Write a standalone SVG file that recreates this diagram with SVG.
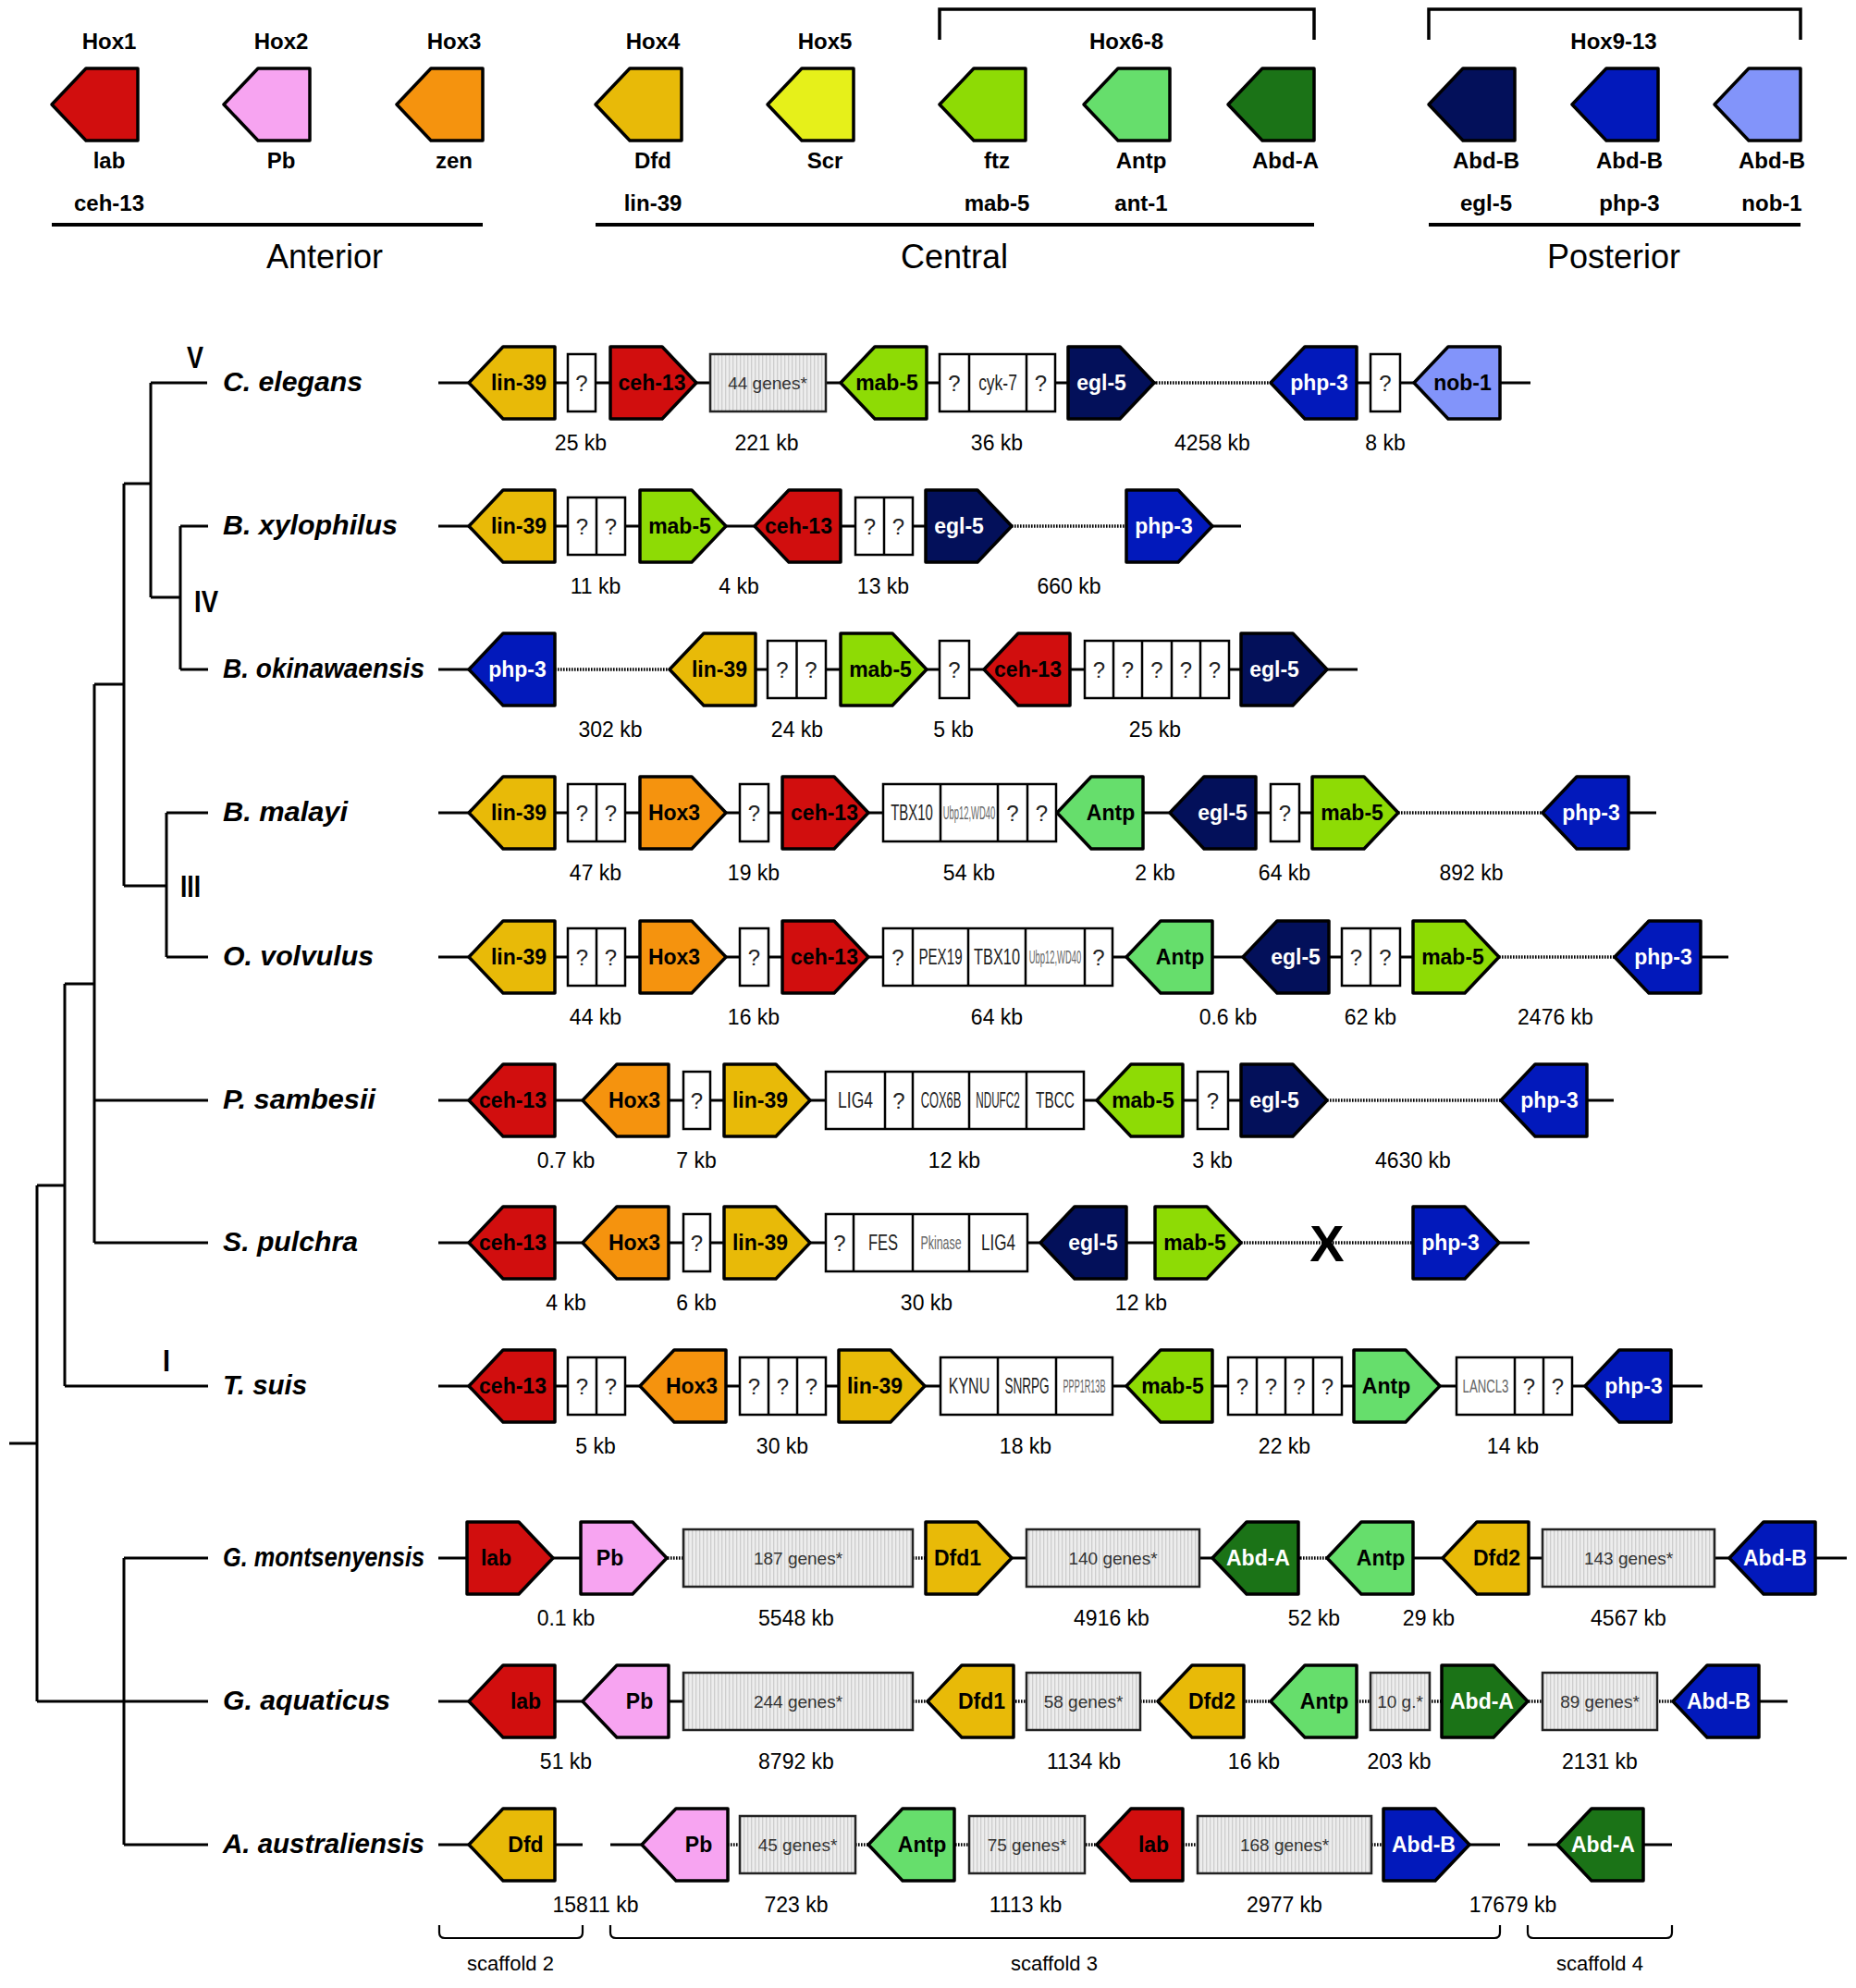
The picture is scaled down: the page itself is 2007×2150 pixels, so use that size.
<svg xmlns="http://www.w3.org/2000/svg" width="2007" height="2150" viewBox="0 0 2007 2150">
<style>
text{font-family:"Liberation Sans",Arial,sans-serif}
.g{stroke:#000;stroke-width:3.5;stroke-linejoin:round}
.red{fill:#d10e0e}.pink{fill:#f7a4f1}.orange{fill:#f5930e}.gold{fill:#e8ba08}.yellow{fill:#e6f01a}.lime{fill:#8edb05}.lgreen{fill:#66de6c}.dgreen{fill:#1b7317}.navy{fill:#03105a}.blue{fill:#0219bb}.lblue{fill:#8294fa}
.gt{font-weight:bold;font-size:23px;text-anchor:middle;fill:#000}
.gt.w{fill:#fff}
.bx{fill:#fff;stroke:#000;stroke-width:2.5}
.hb{fill:url(#hatch);stroke:#222;stroke-width:2.5}
.dv{stroke:#000;stroke-width:2.5;fill:none}
.q{font-size:24px;text-anchor:middle;fill:#222}
.gn{font-size:19px;text-anchor:middle;fill:#333}
.sl{font-size:23px;text-anchor:middle;fill:#222}
.lt{font-size:20px;text-anchor:middle;fill:#666}
.kb{font-size:23px;text-anchor:middle;fill:#000}
.sp{font-size:29px;font-weight:bold;font-style:italic;fill:#000}
.rn{font-size:34px;font-weight:bold;text-anchor:middle}
.lg{font-size:24px;font-weight:bold;text-anchor:middle}
.reg{font-size:36px;text-anchor:middle}
.ln{stroke:#000;stroke-width:3;fill:none}
.bb{stroke:#000;stroke-width:3;fill:none}
.wh{stroke:#fff;stroke-width:6;fill:none}
.dot{stroke:#000;stroke-width:3.5;stroke-dasharray:1.6 1.4;fill:none}
.bar{stroke:#000;stroke-width:4;fill:none}
.brk{stroke:#000;stroke-width:2.2;fill:none}
</style>
<defs>
<pattern id="hatch" width="4" height="10" patternUnits="userSpaceOnUse"><rect width="4" height="10" fill="#ededed"/><rect width="1.3" height="10" fill="#cdcdcd"/></pattern>
<path id="gl" d="M0,0 L37,-39 L93,-39 L93,39 L37,39 Z"/>
<path id="gr" d="M0,-39 L56,-39 L93,0 L56,39 L0,39 Z"/>
</defs>
<rect width="2007" height="2150" fill="#fff"/>

<g id="legend">
<path class="brk" style="stroke-width:3.5" d="M1016,43V10H1421V43M1545,43V10H1947V43"/>
<text class="lg" x="118" y="53">Hox1</text><text class="lg" x="304" y="53">Hox2</text><text class="lg" x="491" y="53">Hox3</text><text class="lg" x="706" y="53">Hox4</text><text class="lg" x="892" y="53">Hox5</text><text class="lg" x="1218" y="53">Hox6-8</text><text class="lg" x="1745" y="53">Hox9-13</text>
<g id="leg-hox1"><use href="#gl" x="56" y="113" class="g red"/><text class="lg" x="118" y="182">lab</text><text class="lg" x="118" y="228">ceh-13</text></g>
<g id="leg-hox2"><use href="#gl" x="242" y="113" class="g pink"/><text class="lg" x="304" y="182">Pb</text></g>
<g id="leg-hox3"><use href="#gl" x="429" y="113" class="g orange"/><text class="lg" x="491" y="182">zen</text></g>
<g id="leg-hox4"><use href="#gl" x="644" y="113" class="g gold"/><text class="lg" x="706" y="182">Dfd</text><text class="lg" x="706" y="228">lin-39</text></g>
<g id="leg-hox5"><use href="#gl" x="830" y="113" class="g yellow"/><text class="lg" x="892" y="182">Scr</text></g>
<g id="leg-ftz"><use href="#gl" x="1016" y="113" class="g lime"/><text class="lg" x="1078" y="182">ftz</text><text class="lg" x="1078" y="228">mab-5</text></g>
<g id="leg-antp"><use href="#gl" x="1172" y="113" class="g lgreen"/><text class="lg" x="1234" y="182">Antp</text><text class="lg" x="1234" y="228">ant-1</text></g>
<g id="leg-abda"><use href="#gl" x="1328" y="113" class="g dgreen"/><text class="lg" x="1390" y="182">Abd-A</text></g>
<g id="leg-egl5"><use href="#gl" x="1545" y="113" class="g navy"/><text class="lg" x="1607" y="182">Abd-B</text><text class="lg" x="1607" y="228">egl-5</text></g>
<g id="leg-php3"><use href="#gl" x="1700" y="113" class="g blue"/><text class="lg" x="1762" y="182">Abd-B</text><text class="lg" x="1762" y="228">php-3</text></g>
<g id="leg-nob1"><use href="#gl" x="1854" y="113" class="g lblue"/><text class="lg" x="1916" y="182">Abd-B</text><text class="lg" x="1916" y="228">nob-1</text></g>
<path class="bar" d="M56,243H522M644,243H1421M1545,243H1947"/>
<text class="reg" x="351" y="290">Anterior</text><text class="reg" x="1032" y="290">Central</text><text class="reg" x="1745" y="290">Posterior</text>
</g>

<g id="tree">
<path class="ln" d="M10,1561H40M40,1282V1840M40,1282H70M40,1840H225M134,1685V1995M134,1685H225M134,1995H225M70,1064V1499M70,1499H225M70,1064H102M102,740V1344M102,1190H225M102,1344H225M102,740H134M134,523V958M134,958H180M180,879V1035M180,879H225M180,1035H225M134,523H163M163,414V646M163,414H224M163,646H195M195,569V724M195,569H225M195,724H225"/>
<text class="rn" x="211" y="398" textLength="18" lengthAdjust="spacingAndGlyphs">V</text>
<text class="rn" x="223" y="662" textLength="26" lengthAdjust="spacingAndGlyphs">IV</text>
<text class="rn" x="206" y="970" textLength="22" lengthAdjust="spacingAndGlyphs">III</text>
<text class="rn" x="180" y="1483" textLength="8" lengthAdjust="spacingAndGlyphs">I</text>
</g>

<g id="connectors">
<path class="bb" d="M474,414H1655M474,569H1342M474,724H1468M474,879H1791M474,1035H1869M474,1190H1745M474,1344H1654M474,1499H1841M474,1685H1997M474,1840H1933M474,1995H630M660,1995H1622M1652,1995H1808"/>
<path class="wh" d="M1250,414H1374M1094,569H1218M600,724H724M1512,879H1668M1621,1035H1746M1435,1190H1623M1342,1344H1528M722,1685H739M987,1685H1001M1406,1685H1435M987,1840H1809M784,1995H1496"/>
<path class="dot" d="M1250,414H1374M1094,569H1218M600,724H724M1512,879H1668M1621,1035H1746M1435,1190H1623M1342,1344H1528M722,1685H739M987,1685H1001M1406,1685H1435M987,1840H1809M784,1995H1496"/>
<path class="brk" d="M475,2082V2090Q475,2096 481,2096H624Q630,2096 630,2090V2082M660,2082V2090Q660,2096 666,2096H1616Q1622,2096 1622,2090V2082M1652,2082V2090Q1652,2096 1658,2096H1802Q1808,2096 1808,2090V2082"/>
</g>

<g id="row-celegans">
<text class="sp" x="241" y="423" textLength="151" lengthAdjust="spacingAndGlyphs">C. elegans</text>
<g id="ce-lin39"><use href="#gl" x="507" y="414" class="g gold"/><text class="gt" x="561" y="422">lin-39</text></g>
<g id="ce-q1"><rect class="bx" x="614" y="383" width="30" height="62"/><text class="q" x="629" y="423">?</text></g>
<g id="ce-ceh13"><use href="#gr" x="660" y="414" class="g red"/><text class="gt" x="705" y="422">ceh-13</text></g>
<g id="ce-44"><rect class="hb" x="768" y="383" width="125" height="62"/><text class="gn" x="830" y="421">44 genes*</text></g>
<g id="ce-mab5"><use href="#gl" x="909" y="414" class="g lime"/><text class="gt" x="959" y="422">mab-5</text></g>
<g id="ce-box2"><rect class="bx" x="1016" y="383" width="125" height="62"/><path class="dv" d="M1048,383V445M1110,383V445"/><text class="q" x="1032" y="423">?</text><text class="sl" transform="translate(1079,422) scale(0.76,1)">cyk-7</text><text class="q" x="1125.5" y="423">?</text></g>
<g id="ce-egl5"><use href="#gr" x="1155" y="414" class="g navy"/><text class="gt w" x="1191" y="422">egl-5</text></g>
<g id="ce-php3"><use href="#gl" x="1374" y="414" class="g blue"/><text class="gt w" x="1426.5" y="422">php-3</text></g>
<g id="ce-q3"><rect class="bx" x="1482" y="383" width="32" height="62"/><text class="q" x="1498" y="423">?</text></g>
<g id="ce-nob1"><use href="#gl" x="1529" y="414" class="g lblue"/><text class="gt" x="1581.5" y="422">nob-1</text></g>
<text class="kb" x="628" y="487">25 kb</text><text class="kb" x="829" y="487">221 kb</text><text class="kb" x="1078" y="487">36 kb</text><text class="kb" x="1311" y="487">4258 kb</text><text class="kb" x="1498" y="487">8 kb</text>
</g>

<g id="row-bxylophilus">
<text class="sp" x="241" y="578" textLength="189" lengthAdjust="spacingAndGlyphs">B. xylophilus</text>
<g id="bx-lin39"><use href="#gl" x="507" y="569" class="g gold"/><text class="gt" x="561" y="577">lin-39</text></g>
<g id="bx-q1"><rect class="bx" x="614" y="538" width="62" height="62"/><path class="dv" d="M645,538V600"/><text class="q" x="629.5" y="578">?</text><text class="q" x="660.5" y="578">?</text></g>
<g id="bx-mab5"><use href="#gr" x="692" y="569" class="g lime"/><text class="gt" x="735" y="577">mab-5</text></g>
<g id="bx-ceh13"><use href="#gl" x="816" y="569" class="g red"/><text class="gt" x="863.5" y="577">ceh-13</text></g>
<g id="bx-q2"><rect class="bx" x="925" y="538" width="62" height="62"/><path class="dv" d="M956,538V600"/><text class="q" x="940.5" y="578">?</text><text class="q" x="971.5" y="578">?</text></g>
<g id="bx-egl5"><use href="#gr" x="1001" y="569" class="g navy"/><text class="gt w" x="1037" y="577">egl-5</text></g>
<g id="bx-php3"><use href="#gr" x="1218" y="569" class="g blue"/><text class="gt w" x="1258.5" y="577">php-3</text></g>
<text class="kb" x="644" y="642">11 kb</text><text class="kb" x="799" y="642">4 kb</text><text class="kb" x="955" y="642">13 kb</text><text class="kb" x="1156" y="642">660 kb</text>
</g>

<g id="row-bokinawaensis">
<text class="sp" x="241" y="733" textLength="218" lengthAdjust="spacingAndGlyphs">B. okinawaensis</text>
<g id="bo-php3"><use href="#gl" x="507" y="724" class="g blue"/><text class="gt w" x="559.5" y="732">php-3</text></g>
<g id="bo-lin39"><use href="#gl" x="724" y="724" class="g gold"/><text class="gt" x="778" y="732">lin-39</text></g>
<g id="bo-q1"><rect class="bx" x="830" y="693" width="63" height="62"/><path class="dv" d="M861.5,693V755"/><text class="q" x="846" y="733">?</text><text class="q" x="877" y="733">?</text></g>
<g id="bo-mab5"><use href="#gr" x="909" y="724" class="g lime"/><text class="gt" x="952" y="732">mab-5</text></g>
<g id="bo-q2"><rect class="bx" x="1016" y="693" width="32" height="62"/><text class="q" x="1032" y="733">?</text></g>
<g id="bo-ceh13"><use href="#gl" x="1064" y="724" class="g red"/><text class="gt" x="1111.5" y="732">ceh-13</text></g>
<g id="bo-q3"><rect class="bx" x="1173" y="693" width="156" height="62"/><path class="dv" d="M1204,693V755M1235,693V755M1267,693V755M1298,693V755"/><text class="q" x="1188.5" y="733">?</text><text class="q" x="1219.5" y="733">?</text><text class="q" x="1251" y="733">?</text><text class="q" x="1282.5" y="733">?</text><text class="q" x="1313.5" y="733">?</text></g>
<g id="bo-egl5"><use href="#gr" x="1342" y="724" class="g navy"/><text class="gt w" x="1378" y="732">egl-5</text></g>
<text class="kb" x="660" y="797">302 kb</text><text class="kb" x="862" y="797">24 kb</text><text class="kb" x="1031" y="797">5 kb</text><text class="kb" x="1249" y="797">25 kb</text>
</g>

<g id="row-bmalayi">
<text class="sp" x="241" y="888" textLength="135" lengthAdjust="spacingAndGlyphs">B. malayi</text>
<g id="bm-lin39"><use href="#gl" x="507" y="879" class="g gold"/><text class="gt" x="561" y="887">lin-39</text></g>
<g id="bm-q1"><rect class="bx" x="614" y="848" width="62" height="62"/><path class="dv" d="M645,848V910"/><text class="q" x="629.5" y="888">?</text><text class="q" x="660.5" y="888">?</text></g>
<g id="bm-hox3"><use href="#gr" x="692" y="879" class="g orange"/><text class="gt" x="729" y="887">Hox3</text></g>
<g id="bm-q2"><rect class="bx" x="800" y="848" width="31" height="62"/><text class="q" x="815.5" y="888">?</text></g>
<g id="bm-ceh13"><use href="#gr" x="846" y="879" class="g red"/><text class="gt" x="891.5" y="887">ceh-13</text></g>
<g id="bm-box"><rect class="bx" x="955" y="848" width="187" height="62"/><path class="dv" d="M1017,848V910M1079,848V910M1111,848V910"/><text class="sl" transform="translate(986,887) scale(0.65,1)">TBX10</text><text class="lt" transform="translate(1048,886) scale(0.47,1)">Ubp12,WD40</text><text class="q" x="1095" y="888">?</text><text class="q" x="1126.5" y="888">?</text></g>
<g id="bm-antp"><use href="#gl" x="1143" y="879" class="g lgreen"/><text class="gt" x="1201" y="887">Antp</text></g>
<g id="bm-egl5"><use href="#gl" x="1265" y="879" class="g navy"/><text class="gt w" x="1322" y="887">egl-5</text></g>
<g id="bm-q3"><rect class="bx" x="1374" y="848" width="31" height="62"/><text class="q" x="1389.5" y="888">?</text></g>
<g id="bm-mab5"><use href="#gr" x="1419" y="879" class="g lime"/><text class="gt" x="1462" y="887">mab-5</text></g>
<g id="bm-php3"><use href="#gl" x="1668" y="879" class="g blue"/><text class="gt w" x="1720.5" y="887">php-3</text></g>
<text class="kb" x="644" y="952">47 kb</text><text class="kb" x="815" y="952">19 kb</text><text class="kb" x="1048" y="952">54 kb</text><text class="kb" x="1249" y="952">2 kb</text><text class="kb" x="1389" y="952">64 kb</text><text class="kb" x="1591" y="952">892 kb</text>
</g>

<g id="row-ovolvulus">
<text class="sp" x="241" y="1044" textLength="163" lengthAdjust="spacingAndGlyphs">O. volvulus</text>
<g id="ov-lin39"><use href="#gl" x="507" y="1035" class="g gold"/><text class="gt" x="561" y="1043">lin-39</text></g>
<g id="ov-q1"><rect class="bx" x="614" y="1004" width="62" height="62"/><path class="dv" d="M645,1004V1066"/><text class="q" x="629.5" y="1044">?</text><text class="q" x="660.5" y="1044">?</text></g>
<g id="ov-hox3"><use href="#gr" x="692" y="1035" class="g orange"/><text class="gt" x="729" y="1043">Hox3</text></g>
<g id="ov-q2"><rect class="bx" x="800" y="1004" width="31" height="62"/><text class="q" x="815.5" y="1044">?</text></g>
<g id="ov-ceh13"><use href="#gr" x="846" y="1035" class="g red"/><text class="gt" x="891.5" y="1043">ceh-13</text></g>
<g id="ov-box"><rect class="bx" x="955" y="1004" width="248" height="62"/><path class="dv" d="M987,1004V1066M1047,1004V1066M1109,1004V1066M1173,1004V1066"/><text class="q" x="971" y="1044">?</text><text class="sl" transform="translate(1017,1043) scale(0.66,1)">PEX19</text><text class="sl" transform="translate(1078,1043) scale(0.71,1)">TBX10</text><text class="lt" transform="translate(1141,1042) scale(0.47,1)">Ubp12,WD40</text><text class="q" x="1188" y="1044">?</text></g>
<g id="ov-antp"><use href="#gl" x="1218" y="1035" class="g lgreen"/><text class="gt" x="1276" y="1043">Antp</text></g>
<g id="ov-egl5"><use href="#gl" x="1344" y="1035" class="g navy"/><text class="gt w" x="1401" y="1043">egl-5</text></g>
<g id="ov-q3"><rect class="bx" x="1451" y="1004" width="63" height="62"/><path class="dv" d="M1482,1004V1066"/><text class="q" x="1466.5" y="1044">?</text><text class="q" x="1498" y="1044">?</text></g>
<g id="ov-mab5"><use href="#gr" x="1528" y="1035" class="g lime"/><text class="gt" x="1571" y="1043">mab-5</text></g>
<g id="ov-php3"><use href="#gl" x="1746" y="1035" class="g blue"/><text class="gt w" x="1798.5" y="1043">php-3</text></g>
<text class="kb" x="644" y="1108">44 kb</text><text class="kb" x="815" y="1108">16 kb</text><text class="kb" x="1078" y="1108">64 kb</text><text class="kb" x="1328" y="1108">0.6 kb</text><text class="kb" x="1482" y="1108">62 kb</text><text class="kb" x="1682" y="1108">2476 kb</text>
</g>

<g id="row-psambesii">
<text class="sp" x="241" y="1199" textLength="165" lengthAdjust="spacingAndGlyphs">P. sambesii</text>
<g id="ps-ceh13"><use href="#gl" x="507" y="1190" class="g red"/><text class="gt" x="554.5" y="1198">ceh-13</text></g>
<g id="ps-hox3"><use href="#gl" x="630" y="1190" class="g orange"/><text class="gt" x="686" y="1198">Hox3</text></g>
<g id="ps-q1"><rect class="bx" x="739" y="1159" width="29" height="62"/><text class="q" x="753.5" y="1199">?</text></g>
<g id="ps-lin39"><use href="#gr" x="783" y="1190" class="g gold"/><text class="gt" x="822" y="1198">lin-39</text></g>
<g id="ps-box"><rect class="bx" x="893" y="1159" width="279" height="62"/><path class="dv" d="M957,1159V1221M987,1159V1221M1048,1159V1221M1110,1159V1221"/><text class="sl" transform="translate(925,1198) scale(0.76,1)">LIG4</text><text class="q" x="972" y="1199">?</text><text class="sl" transform="translate(1017.5,1198) scale(0.56,1)">COX6B</text><text class="sl" transform="translate(1079,1198) scale(0.51,1)">NDUFC2</text><text class="sl" transform="translate(1141,1198) scale(0.67,1)">TBCC</text></g>
<g id="ps-mab5"><use href="#gl" x="1186" y="1190" class="g lime"/><text class="gt" x="1236" y="1198">mab-5</text></g>
<g id="ps-q2"><rect class="bx" x="1295" y="1159" width="33" height="62"/><text class="q" x="1311.5" y="1199">?</text></g>
<g id="ps-egl5"><use href="#gr" x="1342" y="1190" class="g navy"/><text class="gt w" x="1378" y="1198">egl-5</text></g>
<g id="ps-php3"><use href="#gl" x="1623" y="1190" class="g blue"/><text class="gt w" x="1675.5" y="1198">php-3</text></g>
<text class="kb" x="612" y="1263">0.7 kb</text><text class="kb" x="753" y="1263">7 kb</text><text class="kb" x="1032" y="1263">12 kb</text><text class="kb" x="1311" y="1263">3 kb</text><text class="kb" x="1528" y="1263">4630 kb</text>
</g>

<g id="row-spulchra">
<text class="sp" x="241" y="1353" textLength="146" lengthAdjust="spacingAndGlyphs">S. pulchra</text>
<g id="sp-ceh13"><use href="#gl" x="507" y="1344" class="g red"/><text class="gt" x="554.5" y="1352">ceh-13</text></g>
<g id="sp-hox3"><use href="#gl" x="630" y="1344" class="g orange"/><text class="gt" x="686" y="1352">Hox3</text></g>
<g id="sp-q1"><rect class="bx" x="739" y="1313" width="29" height="62"/><text class="q" x="753.5" y="1353">?</text></g>
<g id="sp-lin39"><use href="#gr" x="783" y="1344" class="g gold"/><text class="gt" x="822" y="1352">lin-39</text></g>
<g id="sp-box"><rect class="bx" x="893" y="1313" width="218" height="62"/><path class="dv" d="M923,1313V1375M987,1313V1375M1048,1313V1375"/><text class="q" x="908" y="1353">?</text><text class="sl" transform="translate(955,1352) scale(0.72,1)">FES</text><text class="lt" transform="translate(1017.5,1351) scale(0.62,1)">Pkinase</text><text class="sl" transform="translate(1079.5,1352) scale(0.74,1)">LIG4</text></g>
<g id="sp-egl5"><use href="#gl" x="1125" y="1344" class="g navy"/><text class="gt w" x="1182" y="1352">egl-5</text></g>
<g id="sp-mab5"><use href="#gr" x="1249" y="1344" class="g lime"/><text class="gt" x="1292" y="1352">mab-5</text></g>
<text x="1435" y="1364" style="font-size:56px;font-weight:bold;text-anchor:middle">X</text>
<g id="sp-php3"><use href="#gr" x="1528" y="1344" class="g blue"/><text class="gt w" x="1568.5" y="1352">php-3</text></g>
<text class="kb" x="612" y="1417">4 kb</text><text class="kb" x="753" y="1417">6 kb</text><text class="kb" x="1002" y="1417">30 kb</text><text class="kb" x="1234" y="1417">12 kb</text>
</g>

<g id="row-tsuis">
<text class="sp" x="241" y="1508" textLength="91" lengthAdjust="spacingAndGlyphs">T. suis</text>
<g id="ts-ceh13"><use href="#gl" x="507" y="1499" class="g red"/><text class="gt" x="554.5" y="1507">ceh-13</text></g>
<g id="ts-q1"><rect class="bx" x="614" y="1468" width="62" height="62"/><path class="dv" d="M645,1468V1530"/><text class="q" x="629.5" y="1508">?</text><text class="q" x="660.5" y="1508">?</text></g>
<g id="ts-hox3"><use href="#gl" x="692" y="1499" class="g orange"/><text class="gt" x="748" y="1507">Hox3</text></g>
<g id="ts-q2"><rect class="bx" x="800" y="1468" width="93" height="62"/><path class="dv" d="M831,1468V1530M862,1468V1530"/><text class="q" x="815.5" y="1508">?</text><text class="q" x="846.5" y="1508">?</text><text class="q" x="877.5" y="1508">?</text></g>
<g id="ts-lin39"><use href="#gr" x="907" y="1499" class="g gold"/><text class="gt" x="946" y="1507">lin-39</text></g>
<g id="ts-box"><rect class="bx" x="1017" y="1468" width="186" height="62"/><path class="dv" d="M1079,1468V1530M1142,1468V1530"/><text class="sl" transform="translate(1048,1507) scale(0.70,1)">KYNU</text><text class="sl" transform="translate(1110.5,1507) scale(0.59,1)">SNRPG</text><text class="lt" transform="translate(1172.5,1506) scale(0.455,1)">PPP1R13B</text></g>
<g id="ts-mab5"><use href="#gl" x="1218" y="1499" class="g lime"/><text class="gt" x="1268" y="1507">mab-5</text></g>
<g id="ts-q3"><rect class="bx" x="1328" y="1468" width="123" height="62"/><path class="dv" d="M1359,1468V1530M1390,1468V1530M1420,1468V1530"/><text class="q" x="1343.5" y="1508">?</text><text class="q" x="1374.5" y="1508">?</text><text class="q" x="1405" y="1508">?</text><text class="q" x="1435.5" y="1508">?</text></g>
<g id="ts-antp"><use href="#gr" x="1464" y="1499" class="g lgreen"/><text class="gt" x="1499" y="1507">Antp</text></g>
<g id="ts-box2"><rect class="bx" x="1575" y="1468" width="125" height="62"/><path class="dv" d="M1638,1468V1530M1669,1468V1530"/><text class="lt" transform="translate(1606.5,1506) scale(0.66,1)">LANCL3</text><text class="q" x="1653.5" y="1508">?</text><text class="q" x="1684.5" y="1508">?</text></g>
<g id="ts-php3"><use href="#gl" x="1714" y="1499" class="g blue"/><text class="gt w" x="1766.5" y="1507">php-3</text></g>
<text class="kb" x="644" y="1572">5 kb</text><text class="kb" x="846" y="1572">30 kb</text><text class="kb" x="1109" y="1572">18 kb</text><text class="kb" x="1389" y="1572">22 kb</text><text class="kb" x="1636" y="1572">14 kb</text>
</g>

<g id="row-gmontsenyensis">
<text class="sp" x="241" y="1694" textLength="218" lengthAdjust="spacingAndGlyphs">G. montsenyensis</text>
<g id="gm-lab"><use href="#gr" x="505" y="1685" class="g red"/><text class="gt" x="536.5" y="1693">lab</text></g>
<g id="gm-pb"><use href="#gr" x="628" y="1685" class="g pink"/><text class="gt" x="659.5" y="1693">Pb</text></g>
<g id="gm-187"><rect class="hb" x="739" y="1654" width="248" height="62"/><text class="gn" x="863" y="1692">187 genes*</text></g>
<g id="gm-dfd1"><use href="#gr" x="1001" y="1685" class="g gold"/><text class="gt" x="1035.5" y="1693">Dfd1</text></g>
<g id="gm-140"><rect class="hb" x="1110" y="1654" width="187" height="62"/><text class="gn" x="1203.5" y="1692">140 genes*</text></g>
<g id="gm-abda"><use href="#gl" x="1311" y="1685" class="g dgreen"/><text class="gt w" x="1360.5" y="1693">Abd-A</text></g>
<g id="gm-antp"><use href="#gl" x="1435" y="1685" class="g lgreen"/><text class="gt" x="1493" y="1693">Antp</text></g>
<g id="gm-dfd2"><use href="#gl" x="1560" y="1685" class="g gold"/><text class="gt" x="1618.5" y="1693">Dfd2</text></g>
<g id="gm-143"><rect class="hb" x="1668" y="1654" width="186" height="62"/><text class="gn" x="1761" y="1692">143 genes*</text></g>
<g id="gm-abdb"><use href="#gl" x="1870" y="1685" class="g blue"/><text class="gt w" x="1919.5" y="1693">Abd-B</text></g>
<text class="kb" x="612" y="1758">0.1 kb</text><text class="kb" x="861" y="1758">5548 kb</text><text class="kb" x="1202" y="1758">4916 kb</text><text class="kb" x="1421" y="1758">52 kb</text><text class="kb" x="1545" y="1758">29 kb</text><text class="kb" x="1761" y="1758">4567 kb</text>
</g>

<g id="row-gaquaticus">
<text class="sp" x="241" y="1849" textLength="181" lengthAdjust="spacingAndGlyphs">G. aquaticus</text>
<g id="ga-lab"><use href="#gl" x="507" y="1840" class="g red"/><text class="gt" x="568.5" y="1848">lab</text></g>
<g id="ga-pb"><use href="#gl" x="630" y="1840" class="g pink"/><text class="gt" x="691.5" y="1848">Pb</text></g>
<g id="ga-244"><rect class="hb" x="739" y="1809" width="248" height="62"/><text class="gn" x="863" y="1847">244 genes*</text></g>
<g id="ga-dfd1"><use href="#gl" x="1003" y="1840" class="g gold"/><text class="gt" x="1061.5" y="1848">Dfd1</text></g>
<g id="ga-58"><rect class="hb" x="1110" y="1809" width="123" height="62"/><text class="gn" x="1171.5" y="1847">58 genes*</text></g>
<g id="ga-dfd2"><use href="#gl" x="1252" y="1840" class="g gold"/><text class="gt" x="1310.5" y="1848">Dfd2</text></g>
<g id="ga-antp"><use href="#gl" x="1374" y="1840" class="g lgreen"/><text class="gt" x="1432" y="1848">Antp</text></g>
<g id="ga-10"><rect class="hb" x="1482" y="1809" width="64" height="62"/><text class="gn" x="1514" y="1847">10 g.*</text></g>
<g id="ga-abda"><use href="#gr" x="1559" y="1840" class="g dgreen"/><text class="gt w" x="1602.5" y="1848">Abd-A</text></g>
<g id="ga-89"><rect class="hb" x="1668" y="1809" width="124" height="62"/><text class="gn" x="1730" y="1847">89 genes*</text></g>
<g id="ga-abdb"><use href="#gl" x="1809" y="1840" class="g blue"/><text class="gt w" x="1858.5" y="1848">Abd-B</text></g>
<text class="kb" x="612" y="1913">51 kb</text><text class="kb" x="861" y="1913">8792 kb</text><text class="kb" x="1172" y="1913">1134 kb</text><text class="kb" x="1356" y="1913">16 kb</text><text class="kb" x="1513" y="1913">203 kb</text><text class="kb" x="1730" y="1913">2131 kb</text>
</g>

<g id="row-aaustraliensis">
<text class="sp" x="241" y="2004" textLength="218" lengthAdjust="spacingAndGlyphs">A. australiensis</text>
<g id="aa-dfd"><use href="#gl" x="507" y="1995" class="g gold"/><text class="gt" x="568.5" y="2003">Dfd</text></g>
<g id="aa-pb"><use href="#gl" x="694" y="1995" class="g pink"/><text class="gt" x="755.5" y="2003">Pb</text></g>
<g id="aa-45"><rect class="hb" x="800" y="1964" width="125" height="62"/><text class="gn" x="862.5" y="2002">45 genes*</text></g>
<g id="aa-antp"><use href="#gl" x="939" y="1995" class="g lgreen"/><text class="gt" x="997" y="2003">Antp</text></g>
<g id="aa-75"><rect class="hb" x="1048" y="1964" width="125" height="62"/><text class="gn" x="1110.5" y="2002">75 genes*</text></g>
<g id="aa-lab"><use href="#gl" x="1186" y="1995" class="g red"/><text class="gt" x="1247.5" y="2003">lab</text></g>
<g id="aa-168"><rect class="hb" x="1295" y="1964" width="188" height="62"/><text class="gn" x="1389" y="2002">168 genes*</text></g>
<g id="aa-abdb"><use href="#gr" x="1496" y="1995" class="g blue"/><text class="gt w" x="1539.5" y="2003">Abd-B</text></g>
<g id="aa-abda"><use href="#gl" x="1684" y="1995" class="g dgreen"/><text class="gt w" x="1733.5" y="2003">Abd-A</text></g>
<text class="kb" x="644" y="2068">15811 kb</text><text class="kb" x="861" y="2068">723 kb</text><text class="kb" x="1109" y="2068">1113 kb</text><text class="kb" x="1389" y="2068">2977 kb</text><text class="kb" x="1636" y="2068">17679 kb</text>
<text class="kb" x="552" y="2131" style="font-size:22px">scaffold 2</text><text class="kb" x="1140" y="2131" style="font-size:22px">scaffold 3</text><text class="kb" x="1730" y="2131" style="font-size:22px">scaffold 4</text>
</g>
</svg>
